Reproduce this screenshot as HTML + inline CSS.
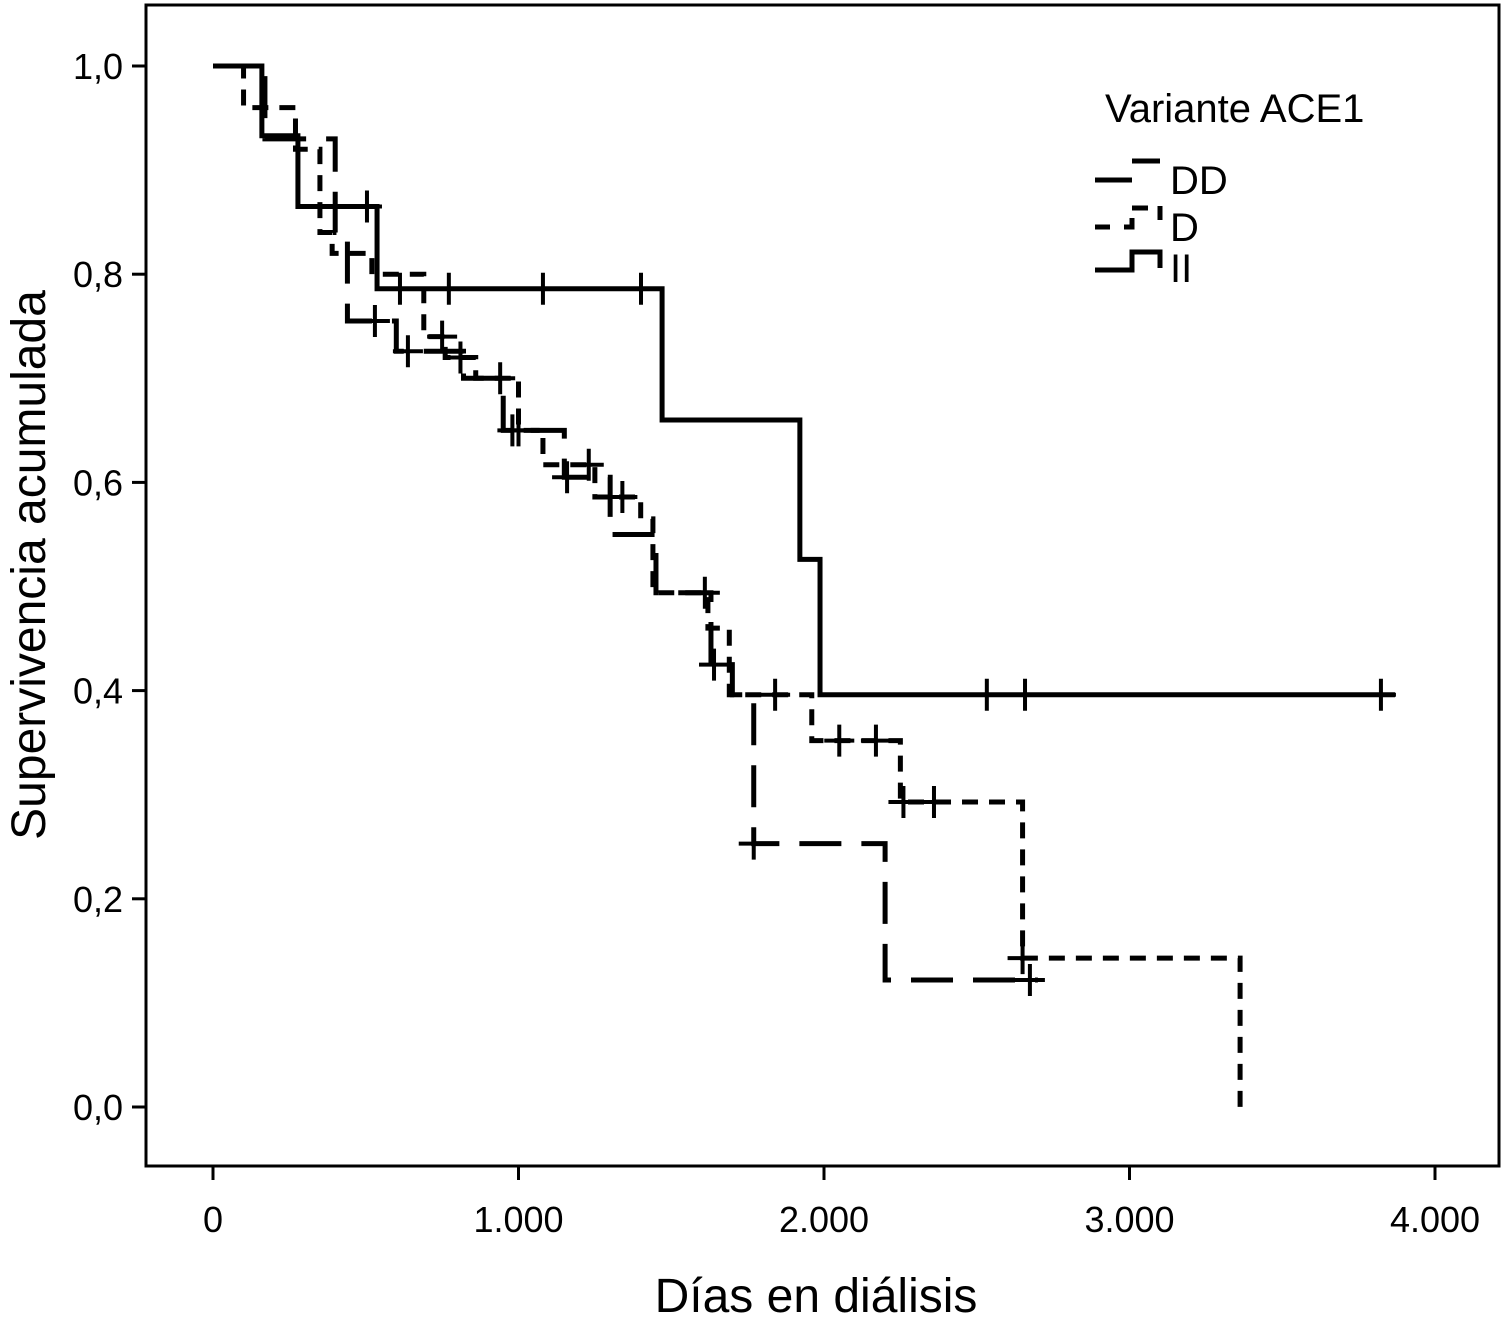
<!DOCTYPE html>
<html><head><meta charset="utf-8"><style>
html,body{margin:0;padding:0;background:#fff;}
svg{display:block;font-family:"Liberation Sans",Arial,sans-serif;}
</style></head><body>
<svg id="chart" width="1507" height="1333" viewBox="0 0 1507 1333" xmlns="http://www.w3.org/2000/svg">
<rect x="146" y="5" width="1353" height="1161" fill="none" stroke="#000" stroke-width="3"/>
<g id="axes"></g>
<g id="series"></g>
<text transform="translate(45,565) rotate(-90)" text-anchor="middle" font-size="48">Supervivencia acumulada</text>
<text x="816" y="1312" text-anchor="middle" font-size="48">Días en diálisis</text>
<g>
<text x="1105" y="122" font-size="40">Variante ACE1</text>
<path d="M1095,180 H1132 M1132,161 H1160" stroke="#000" stroke-width="5" fill="none"/>
<text x="1170" y="194" font-size="40">DD</text>
<path d="M1095,227 H1110 M1124,227 H1132 V218 M1132,208 H1148 M1160,206 V220" stroke="#000" stroke-width="5" fill="none"/>
<text x="1170" y="241" font-size="40">D</text>
<path d="M1095,270 H1132 V252 H1160 V268" stroke="#000" stroke-width="5" fill="none"/>
<text x="1170" y="282" font-size="40">II</text>
</g>
</svg>
<script>
const xTicks=[0,1000,2000,3000,4000];
const xTickLabels=["0","1.000","2.000","3.000","4.000"];
const yTicks=[0,0.2,0.4,0.6,0.8,1.0];
const yTickLabels=["0,0","0,2","0,4","0,6","0,8","1,0"];
const iiTimes=[0,160,278,537,1470,1921,1987];
const iiSurv=[1,0.933,0.865,0.786,0.66,0.526,0.396];
const iiEnd=3869;
const iiCensor=[504,612,772,1080,1401,2533,2658,3823];
const ddTimes=[0,170,400,440,600,820,950,1150,1300,1450,1630,1700,1770,2200];
const ddSurv=[1,0.93,0.84,0.755,0.726,0.70,0.65,0.605,0.55,0.494,0.425,0.396,0.253,0.122];
const ddEnd=2700;
const ddCensor=[530,638,940,980,1159,1640,1770,2674];
const dTimes=[0,100,270,350,390,520,690,760,860,1000,1080,1250,1400,1440,1620,1690,1960,2250,2650,3362];
const dSurv=[1,0.96,0.92,0.84,0.82,0.80,0.74,0.72,0.70,0.65,0.617,0.586,0.565,0.494,0.46,0.396,0.352,0.293,0.143,0];
const dEnd=3362;
const dCensor=[750,810,1000,1230,1340,1610,1840,2050,2170,2260,2360,2650];

const NS="http://www.w3.org/2000/svg";
const xs=d=>213+d*0.3055;
const ys=s=>1107-s*1041;
const axes=document.getElementById('axes');
const series=document.getElementById('series');
function mk(tag,attrs,parent){const e=document.createElementNS(NS,tag);for(const k in attrs)e.setAttribute(k,attrs[k]);parent.appendChild(e);return e;}
xTicks.forEach((t,i)=>{
  const l=mk('line',{x1:xs(t),x2:xs(t),y1:1166,y2:1180,stroke:'#000','stroke-width':3},axes);
  
  
  const tx=mk('text',{x:xs(t),y:1232,'text-anchor':'middle','font-size':36},axes);
  
  
  tx.textContent=xTickLabels[i];
});
yTicks.forEach((t,i)=>{
  const l=mk('line',{x1:132,x2:146,y1:ys(t),y2:ys(t),stroke:'#000','stroke-width':3},axes);
  
  
  const tx=mk('text',{x:123,y:ys(t)+13,'text-anchor':'end','font-size':36},axes);
  
  
  tx.textContent=yTickLabels[i];
});
function survAt(times,surv,t){let s=surv[0];for(let i=0;i<times.length;i++){if(times[i]<=t)s=surv[i];}return s;}
function drawSeries(name,times,surv,end,censor,dash){
  let d='M'+xs(times[0])+','+ys(surv[0]);
  for(let i=1;i<times.length;i++){d+=' H'+xs(times[i])+' V'+ys(surv[i]);}
  if(end>times[times.length-1])d+=' H'+xs(end);
  const p=mk('path',{d:d,fill:'none',stroke:'#000','stroke-width':5},series);
  if(dash)p.setAttribute('stroke-dasharray',dash);
  
  
  censor.forEach(c=>{
    const x=xs(c),y=ys(survAt(times,surv,c));
    const m=mk('path',{d:'M'+x+','+(y-16)+' V'+(y+16)+' M'+(x-15)+','+y+' H'+(x+15),stroke:'#000','stroke-width':4,fill:'none'},series);
    
    
  });
}
drawSeries('ii',iiTimes,iiSurv,iiEnd,iiCensor,null);
drawSeries('dd',ddTimes,ddSurv,ddEnd,ddCensor,'42 20');
drawSeries('d',dTimes,dSurv,dEnd,dCensor,'16 11');
</script>
</body></html>
